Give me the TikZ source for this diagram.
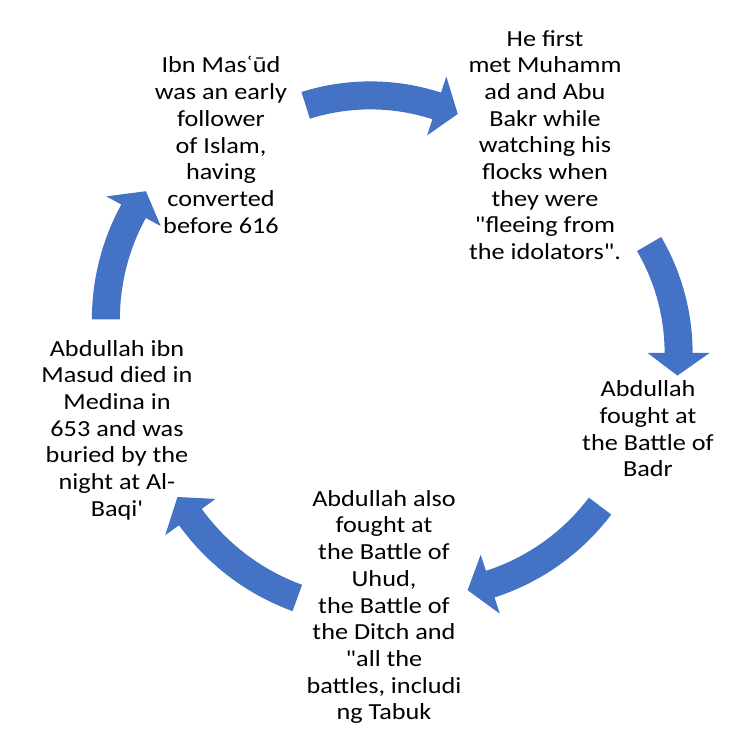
\documentclass[tikz,border=0pt]{standalone}
\usepackage{fontspec}
\usetikzlibrary{calc}
\newfontfamily\cyclefont[FakeStretch=1.14]{Carlito}
\definecolor{arrowblue}{HTML}{4472C4}

% block arrow on a circle: centre, radius, tail angle, head angle
\newcommand{\cyclearrow}[4]{%
  \fill[arrowblue] ($(#1)+(#3:#2+14)$) arc[start angle=#3, end angle=#4, radius=#2+14]
    -- ($(#1)+(#4:#2+31)$) -- ($(#1)+(#4-6:#2)$) -- ($(#1)+(#4:#2-31)$)
    -- ($(#1)+(#4:#2-14)$) arc[start angle=#4, end angle=#3, radius=#2-14] -- cycle;}

\begin{document}
\begin{tikzpicture}[x=1pt, y=1pt,
  cycletext/.style={font=\cyclefont\fontsize{23}{26.7}\selectfont, align=center, inner sep=0pt}]

  \useasboundingbox (0,0) rectangle (750,750);

  % --- 1. texts of the cycle ---
  \node[cycletext] (early) at (221,605) {Ibn Masʿūd\\was an early\\follower\\of Islam,\\having\\converted\\before 616};
  \node[cycletext] (met) at (545,605) {He first\\met Muhamm\\ad and Abu\\Bakr while\\watching his\\flocks when\\they were\\"fleeing from\\the idolators".};
  \node[cycletext] (badr) at (648,321) {Abdullah\\fought at\\the Battle of\\Badr};
  \node[cycletext] (uhud) at (384,143) {Abdullah also\\fought at\\the Battle of\\Uhud,\\the Battle of\\the Ditch and\\"all the\\battles, includi\\ng Tabuk};
  \node[cycletext] (died) at (117,320) {Abdullah ibn\\Masud died in\\Medina in\\653 and was\\buried by the\\night at Al-\\Baqi'};

  % --- 2. centres of the arrow arcs ---
  \coordinate (a1) at (370.3,439.6);
  \coordinate (a2) at (462.6,397);
  \coordinate (a3) at (421.4,379);
  \coordinate (a4) at (375.3,366.3);
  \coordinate (a5) at (330.9,430.7);

  % --- 3. arrows, clockwise ---
  \cyclearrow{a1}{215}{107.5}{72}
  \cyclearrow{a2}{216}{30.3}{0}
  \cyclearrow{a3}{224}{-37.1}{-72.1}
  \cyclearrow{a4}{228}{-110}{-144.2}
  \cyclearrow{a5}{225}{180}{151.3}

\end{tikzpicture}
\end{document}
